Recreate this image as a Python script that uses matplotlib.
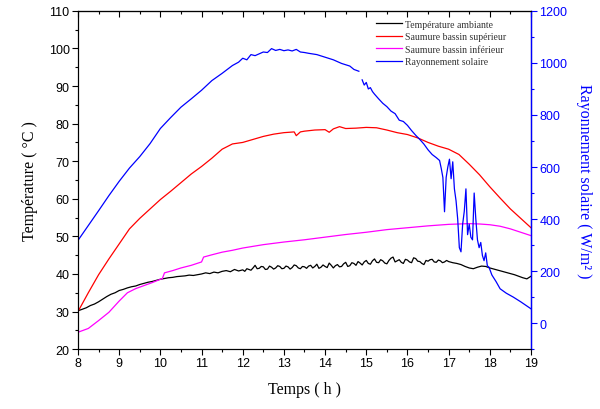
import numpy as np
import matplotlib
matplotlib.use("Agg")
import matplotlib.pyplot as plt
from matplotlib.ticker import MultipleLocator

# ---------------- data ----------------
amb_t = [8.0, 8.1, 8.2, 8.3, 8.4, 8.5, 8.6, 8.7, 8.8, 8.9, 9.0, 9.1, 9.2, 9.3, 9.4, 9.5, 9.6, 9.7, 9.8, 9.9,
         10.0, 10.1, 10.2, 10.3, 10.4, 10.5, 10.6, 10.7, 10.8, 10.9, 11.0, 11.1, 11.2, 11.3, 11.4, 11.5, 11.6, 11.7, 11.8, 11.9,
         12.0, 12.05, 12.1, 12.15, 12.2, 12.25, 12.3, 12.35, 12.4, 12.45, 12.5, 12.55, 12.6, 12.65, 12.7, 12.75, 12.8, 12.85, 12.9, 12.95,
         13.0, 13.05, 13.1, 13.15, 13.2, 13.25, 13.3, 13.35, 13.4, 13.45, 13.5, 13.55, 13.6, 13.65, 13.7, 13.75, 13.8, 13.85, 13.9, 13.95,
         14.0, 14.05, 14.1, 14.15, 14.2, 14.25, 14.3, 14.35, 14.4, 14.45, 14.5, 14.55, 14.6, 14.65, 14.7, 14.75, 14.8, 14.85, 14.9, 14.95,
         15.0, 15.05, 15.1, 15.15, 15.2, 15.25, 15.3, 15.35, 15.4, 15.45, 15.5, 15.55, 15.6, 15.65, 15.7, 15.75, 15.8, 15.85, 15.9, 15.95,
         16.0, 16.05, 16.1, 16.15, 16.2, 16.25, 16.3, 16.35, 16.4, 16.45, 16.5, 16.55, 16.6, 16.65, 16.7, 16.75, 16.8, 16.85, 16.9, 16.95,
         17.0, 17.1, 17.2, 17.3, 17.4, 17.5, 17.6, 17.7, 17.8, 17.9,
         18.0, 18.1, 18.2, 18.3, 18.4, 18.5, 18.6, 18.7, 18.8, 18.9, 19.0]
amb_T = [30.2, 30.6, 31.0, 31.6, 32.0, 32.6, 33.3, 34.0, 34.6, 35.0, 35.6, 35.9, 36.3, 36.6, 36.8, 37.2, 37.5, 37.8, 38.0, 38.3,
         38.6, 38.8, 39.0, 39.1, 39.3, 39.4, 39.5, 39.7, 39.6, 39.8, 40.0, 40.3, 40.1, 40.5, 40.3, 40.7, 40.9, 40.6, 41.2, 40.8,
         41.1, 40.7, 41.4, 41.2, 41.0, 41.6, 42.3, 41.4, 41.5, 42.0, 41.9, 41.2, 41.3, 42.1, 41.8, 41.3, 41.6, 42.2, 42.0, 41.4,
         41.5, 42.1, 41.9, 41.3, 41.7, 42.4, 42.2, 41.6, 41.4, 42.0, 41.9, 41.5, 42.1, 42.3, 41.6, 42.0, 42.6, 41.5, 41.8, 42.4,
         42.0, 41.7, 42.9, 42.3, 41.6, 42.2, 42.5, 41.9, 42.0, 42.7, 43.1, 42.0, 42.2, 43.0, 42.8, 42.3, 43.3, 42.9, 42.4, 43.2,
         43.6, 42.8, 42.6, 43.5, 44.0, 43.1, 43.0, 43.8, 43.5, 42.9, 42.7, 43.6, 44.2, 44.5, 43.2, 43.5, 43.8, 43.1, 42.8, 43.9,
         43.7, 43.2, 43.0, 44.3, 44.1, 43.4, 43.3, 42.8, 42.5, 43.6, 43.4, 43.8, 43.9, 43.2, 43.1, 43.7, 43.5, 43.0, 43.2, 43.6,
         43.3, 43.0, 42.8, 42.5, 42.0, 41.6, 41.4, 41.8, 42.1, 42.0,
         41.6, 41.3, 41.0, 40.7, 40.4, 40.1, 39.8, 39.4, 39.0, 38.7, 39.4]

sup_t = [8.0, 8.25, 8.5, 8.75, 9.0, 9.25, 9.5, 9.75, 10.0, 10.25, 10.5, 10.75, 11.0, 11.25, 11.5, 11.75, 12.0, 12.25,
         12.5, 12.75, 13.0, 13.25, 13.3, 13.4, 13.5, 13.75, 14.0, 14.1, 14.2, 14.35, 14.5, 14.75, 15.0, 15.25, 15.5,
         15.75, 16.0, 16.25, 16.5, 16.75, 17.0, 17.25, 17.5, 17.75, 18.0, 18.25, 18.5, 18.75, 19.0]
sup_T = [30.0, 35.0, 39.8, 44.0, 48.0, 52.0, 54.8, 57.3, 59.8, 62.0, 64.3, 66.6, 68.6, 70.8, 73.2, 74.6, 75.0, 75.8,
         76.6, 77.2, 77.6, 77.8, 76.8, 77.8, 78.0, 78.3, 78.4, 77.7, 78.6, 79.2, 78.7, 78.8, 79.0, 78.9, 78.3,
         77.6, 77.1, 76.2, 75.0, 74.0, 73.2, 71.8, 69.2, 66.4, 63.2, 60.2, 57.3, 54.8, 52.3]

inf_t = [8.0, 8.25, 8.5, 8.75, 9.0, 9.2, 9.4, 9.6, 9.8, 10.05, 10.1, 10.3, 10.5, 10.75, 11.0, 11.05, 11.25, 11.5,
         11.75, 12.0, 12.5, 13.0, 13.5, 14.0, 14.5, 15.0, 15.5, 16.0, 16.5, 17.0, 17.5, 17.75, 18.0, 18.25, 18.5,
         18.75, 19.0]
inf_T = [24.5, 25.5, 27.6, 29.8, 32.8, 35.0, 36.1, 36.9, 37.7, 38.8, 40.3, 40.9, 41.6, 42.3, 43.2, 44.5, 45.1, 45.8,
         46.3, 46.9, 47.8, 48.5, 49.1, 49.8, 50.5, 51.1, 51.8, 52.3, 52.8, 53.2, 53.4, 53.3, 53.1, 52.7, 52.0,
         51.1, 50.2]

sol_t = [8.0, 8.25, 8.5, 8.75, 9.0, 9.25, 9.5, 9.75, 10.0, 10.25, 10.5, 10.75, 11.0, 11.25, 11.5, 11.75, 11.9, 12.0,
         12.1, 12.2, 12.3, 12.5, 12.6, 12.7, 12.8, 12.9, 13.0, 13.1, 13.2, 13.3, 13.4, 13.5, 13.6, 13.8, 14.0, 14.2,
         14.4, 14.6, 14.7, 14.82, 14.86, 14.9, 14.95, 15.0, 15.05, 15.1, 15.15, 15.2, 15.3, 15.4, 15.5, 15.6, 15.7, 15.8,
         15.9, 16.0, 16.1, 16.2, 16.3, 16.4, 16.5, 16.6, 16.7, 16.78, 16.82, 16.86, 16.9, 16.94, 16.98, 17.02, 17.06,
         17.1, 17.14, 17.18, 17.22, 17.26, 17.3, 17.34, 17.38, 17.42, 17.46, 17.5, 17.54, 17.58, 17.62, 17.66, 17.7,
         17.74, 17.78, 17.82, 17.86, 17.9, 17.94, 17.98, 18.05, 18.15, 18.25, 18.4, 18.57, 18.75, 19.0]
sol_R = [318, 375, 432, 490, 545, 596, 640, 690, 748, 790, 830, 862, 895, 932, 960, 990, 1003, 1018,
         1012, 1032, 1028, 1042, 1040, 1055, 1048, 1052, 1047, 1050, 1046, 1052, 1042, 1040, 1037, 1032, 1022, 1012,
         998, 988, 975, 968, np.nan, 935, 915, 925, 900, 905, 890, 880, 862, 845, 832, 815, 805, 780,
         775, 760, 740, 722, 706, 688, 666, 648, 636, 625, 595, 560, 428, 560, 600, 630, 555,
         620, 516, 470, 400, 290, 274, 380, 430, 516, 340, 380, 330, 320, 500, 400, 320,
         290, 310, 260, 240, 270, 220, 215, 185, 160, 132, 115, 100, 82, 55]

x_ticks = [8, 9, 10, 11, 12, 13, 14, 15, 16, 17, 18, 19]
left_ticks = [20, 30, 40, 50, 60, 70, 80, 90, 100, 110]
right_ticks = [0, 200, 400, 600, 800, 1000, 1200]

# ---------------- figure ----------------
serif = ['Liberation Serif', 'DejaVu Serif']
sans = ['Liberation Sans', 'DejaVu Sans']
plt.rcParams['font.family'] = sans

fig = plt.figure(figsize=(6.0, 4.1), dpi=100)
ax = fig.add_axes([0.13, 0.146, 0.755, 0.825])
ax2 = ax.twinx()

BLUE = '#0000ff'
l1, = ax.plot(amb_t, amb_T, color='black', lw=0.9, label='Température ambiante')
l2, = ax.plot(sup_t, sup_T, color='#ff0000', lw=0.9, label='Saumure bassin supérieur')
l3, = ax.plot(inf_t, inf_T, color='#ff00ff', lw=0.9, label='Saumure bassin inférieur')
l4, = ax2.plot(sol_t, sol_R, color=BLUE, lw=0.9, label='Rayonnement solaire')

ax.set_xlim(8, 19)
ax.set_ylim(20, 110)
ax2.set_ylim(-100, 1200)

ax.set_xticks(x_ticks)
ax.set_yticks(left_ticks)
ax2.set_yticks(right_ticks)
ax.xaxis.set_minor_locator(MultipleLocator(0.5))
ax.yaxis.set_minor_locator(MultipleLocator(5))
ax2.yaxis.set_minor_locator(MultipleLocator(100))

ax.tick_params(axis='both', which='major', direction='out', length=4, width=0.8, labelsize=9, pad=2)
ax.tick_params(axis='both', which='minor', direction='out', length=2.5, width=0.8)
ax2.tick_params(axis='y', which='major', direction='out', length=4, width=0.8, colors=BLUE, labelsize=9, pad=2)
ax2.tick_params(axis='y', which='minor', direction='out', length=2.5, width=0.8, colors=BLUE)

sec = ax.secondary_xaxis('top')
sec.set_xticks(x_ticks)
sec.xaxis.set_minor_locator(MultipleLocator(0.5))
sec.tick_params(axis='x', which='major', direction='in', length=4, width=0.8, labeltop=False)
sec.tick_params(axis='x', which='minor', direction='in', length=2.5, width=0.8)
sec.spines['top'].set_linewidth(0.8)

for s in ax.spines.values():
    s.set_linewidth(0.8)
ax2.spines['right'].set_color(BLUE)
ax2.spines['right'].set_linewidth(1.0)

ax.set_xlabel('Temps ( h )', family=serif, fontsize=11.5, labelpad=8)
ax.set_ylabel('Température ( °C )', family=serif, fontsize=11.5, labelpad=8)
ax2.set_ylabel('Rayonnement solaire ( W/m² )', family=serif, fontsize=11.5, color=BLUE,
               rotation=270, labelpad=18)

leg = ax.legend(handles=[l1, l2, l3, l4], loc='upper left', bbox_to_anchor=(0.65, 0.985),
                frameon=False, prop={'family': serif, 'size': 7}, handlelength=2.6,
                handletextpad=0.3, labelspacing=0.35, borderaxespad=0)
for t in leg.get_texts():
    t.set_color('#333333')

fig.savefig('out.png', dpi=100)
